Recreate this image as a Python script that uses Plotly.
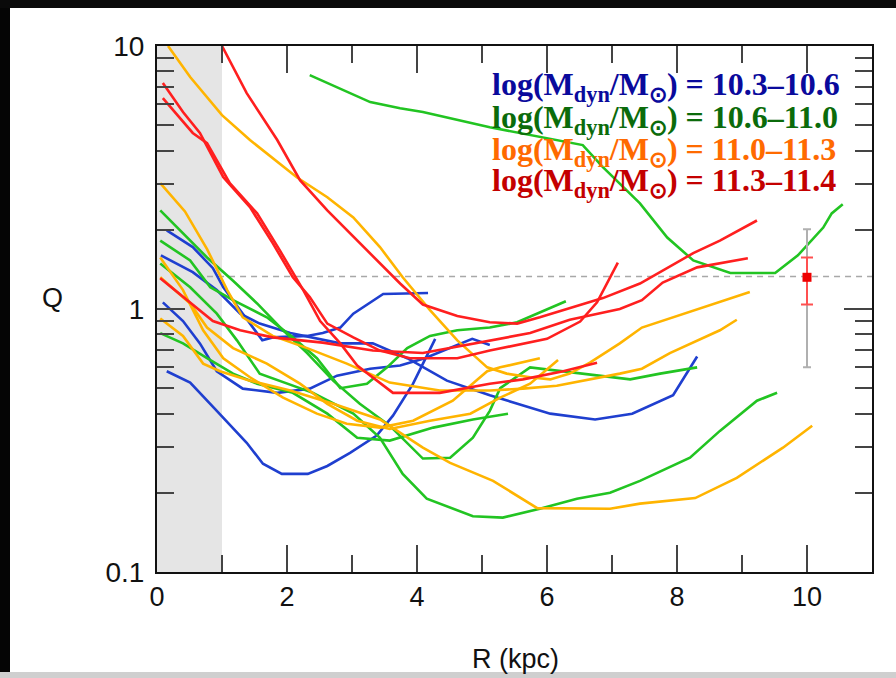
import plotly.graph_objects as go

# ---------------- data (R in kpc, Q) ----------------
# log(Mdyn/Msun) = 11.3-11.4  (red)
red_a_r = [1.00, 1.38, 1.85, 2.20, 2.62, 3.08, 3.43, 3.74, 4.09, 4.62, 5.12, 5.54, 5.89, 6.35, 6.86, 7.43, 7.78, 8.25, 8.66, 9.23]
red_a_q = [10.0, 6.62, 4.39, 3.09, 2.37, 1.82, 1.49, 1.25, 1.04, 0.94, 0.89, 0.88, 0.93, 1.01, 1.10, 1.25, 1.40, 1.63, 1.82, 2.17]
red_b_r = [0.05, 0.40, 0.86, 1.28, 1.78, 2.55, 3.32, 4.09, 4.86, 5.74, 6.35, 7.12, 7.46, 7.78, 8.31, 9.09]
red_b_q = [1.31, 1.11, 0.90, 0.83, 0.78, 0.745, 0.695, 0.68, 0.74, 0.81, 0.91, 1.00, 1.08, 1.26, 1.44, 1.56]
red_c_r = [0.09, 0.40, 0.66, 1.02, 1.43, 1.78, 2.09, 2.35, 2.62, 3.02, 3.43, 3.89, 4.05, 4.62, 5.12, 5.54, 6.00, 6.51, 6.77, 7.09]
red_c_q = [7.23, 5.61, 4.67, 3.17, 2.44, 1.78, 1.32, 1.11, 0.88, 0.78, 0.695, 0.65, 0.65, 0.65, 0.695, 0.73, 0.77, 0.896, 1.06, 1.50]
red_d_r = [0.09, 0.55, 0.77, 1.12, 1.54, 1.89, 2.25, 2.51, 2.82, 3.08, 3.63, 4.35, 5.12, 5.63, 6.25, 6.77]
red_d_q = [6.34, 4.67, 4.27, 3.01, 2.31, 1.67, 1.18, 0.90, 0.74, 0.61, 0.48, 0.48, 0.52, 0.54, 0.58, 0.625]

# log(Mdyn/Msun) = 11.0-11.3  (orange)
org_a_r = [0.17, 0.51, 1.00, 1.43, 2.15, 2.62, 3.02, 3.43, 3.78, 4.20, 4.62, 5.08, 5.38, 5.74, 6.05, 6.35, 6.66, 7.12, 7.46, 7.89, 8.40, 9.12]
org_a_q = [10.0, 7.62, 5.46, 4.39, 3.17, 2.66, 2.23, 1.72, 1.32, 0.99, 0.76, 0.60, 0.568, 0.55, 0.54, 0.568, 0.625, 0.74, 0.85, 0.92, 1.01, 1.16]
org_b_r = [0.05, 0.43, 0.77, 1.08, 1.32, 1.78, 2.31, 2.92, 3.58, 4.35, 5.12, 5.63, 6.15, 6.66, 7.12, 7.46, 7.89, 8.66, 8.92]
org_b_q = [3.01, 2.35, 1.69, 1.18, 0.93, 0.79, 0.71, 0.62, 0.525, 0.49, 0.49, 0.498, 0.511, 0.54, 0.568, 0.593, 0.68, 0.83, 0.91]
org_c_r = [0.05, 0.40, 0.71, 1.02, 1.43, 1.94, 2.46, 2.92, 3.43, 3.94, 4.55, 5.08, 5.28, 5.89]
org_c_q = [1.57, 1.18, 0.83, 0.65, 0.55, 0.46, 0.40, 0.366, 0.354, 0.376, 0.448, 0.58, 0.60, 0.65]
org_d_r = [0.05, 0.51, 0.77, 1.17, 1.69, 2.20, 2.62, 3.08, 3.58, 4.20, 4.82, 5.28, 5.74, 6.17]
org_d_q = [1.32, 1.05, 0.85, 0.71, 0.62, 0.52, 0.436, 0.376, 0.35, 0.376, 0.40, 0.46, 0.52, 0.64]
org_e_r = [0.05, 0.40, 0.71, 0.97, 1.43, 2.05, 2.71, 3.43, 4.09, 4.51, 5.17, 5.85, 6.97, 7.43, 8.28, 8.92, 9.63, 10.08]
org_e_q = [0.92, 0.79, 0.62, 0.58, 0.534, 0.49, 0.436, 0.38, 0.297, 0.26, 0.222, 0.175, 0.174, 0.182, 0.191, 0.228, 0.297, 0.36]

# log(Mdyn/Msun) = 10.6-11.0  (green)
grn_a_r = [2.35, 2.77, 3.28, 3.74, 4.09, 5.12, 5.89, 6.55, 6.86, 7.43, 7.85, 8.25, 8.82, 9.51, 9.86, 10.25, 10.38, 10.55]
grn_a_q = [7.75, 6.98, 6.12, 5.80, 5.61, 4.91, 4.50, 4.20, 3.46, 2.52, 1.87, 1.53, 1.37, 1.37, 1.60, 2.04, 2.31, 2.50]
grn_b_r = [0.05, 0.51, 0.82, 1.17, 1.69, 2.09, 2.46, 2.82, 3.23, 3.54, 3.85, 4.20, 4.62, 5.12, 5.54, 5.89, 6.29]
grn_b_q = [1.82, 1.53, 1.21, 1.08, 0.93, 0.78, 0.65, 0.50, 0.52, 0.60, 0.71, 0.79, 0.83, 0.85, 0.89, 0.97, 1.07]
grn_c_r = [0.05, 0.40, 0.77, 1.17, 1.54, 2.09, 2.62, 3.08, 3.58, 4.25, 4.86, 5.40]
grn_c_q = [0.81, 0.74, 0.65, 0.568, 0.52, 0.48, 0.40, 0.324, 0.316, 0.354, 0.38, 0.40]
grn_d_r = [0.05, 0.40, 0.77, 1.17, 1.54, 1.94, 2.31, 2.71, 3.12, 3.58, 4.09, 4.51, 4.86, 5.12, 5.28, 5.74, 6.40, 7.28, 7.74, 8.31]
grn_d_q = [2.37, 1.94, 1.57, 1.28, 1.05, 0.83, 0.68, 0.534, 0.436, 0.36, 0.27, 0.272, 0.324, 0.41, 0.50, 0.60, 0.573, 0.54, 0.568, 0.60]
grn_e_r = [0.05, 0.51, 0.92, 1.23, 1.58, 1.89, 2.40, 3.02, 3.43, 3.78, 4.15, 4.86, 5.32, 5.89, 6.46, 6.97, 7.43, 8.20, 8.66, 9.23, 9.54]
grn_e_q = [1.49, 1.21, 0.96, 0.76, 0.568, 0.534, 0.48, 0.40, 0.324, 0.236, 0.19, 0.163, 0.161, 0.174, 0.19, 0.20, 0.222, 0.272, 0.344, 0.448, 0.48]

# log(Mdyn/Msun) = 10.3-10.6  (blue)
blu_a_r = [0.15, 0.55, 0.86, 1.02, 1.28, 1.43, 1.62, 1.78, 2.31, 2.55, 2.82, 3.02, 3.28, 3.48, 4.17]
blu_a_q = [1.99, 1.72, 1.43, 1.21, 0.99, 0.88, 0.76, 0.78, 0.79, 0.81, 0.85, 0.96, 1.06, 1.14, 1.15]
blu_b_r = [0.06, 0.55, 0.92, 1.28, 1.58, 2.05, 2.82, 3.32, 3.85, 4.46, 5.12, 6.05, 6.74, 7.31, 7.94, 8.31]
blu_b_q = [1.60, 1.38, 1.18, 0.96, 0.88, 0.81, 0.74, 0.74, 0.65, 0.534, 0.47, 0.40, 0.38, 0.40, 0.47, 0.66]
blu_c_r = [0.15, 0.51, 0.92, 1.38, 1.63, 1.92, 2.32, 2.62, 2.97, 3.38, 3.63, 3.94, 4.28]
blu_c_q = [0.58, 0.525, 0.41, 0.31, 0.258, 0.236, 0.236, 0.253, 0.284, 0.33, 0.393, 0.52, 0.77]
blu_d_r = [0.09, 0.40, 0.66, 0.92, 1.32, 1.85, 2.35, 2.77, 3.28, 3.74, 4.12, 4.48, 4.85, 5.12]
blu_d_q = [1.06, 0.90, 0.74, 0.58, 0.498, 0.48, 0.498, 0.558, 0.593, 0.61, 0.65, 0.707, 0.77, 0.73]

# reference level and typical error bar
q_crit = 1.33
err_r = [10.0]
err_q = [1.32]
err_sys_plus, err_sys_minus = [0.69], [0.72]
err_stat_plus, err_stat_minus = [0.25], [0.28]

legend_lines = [
    ("log(M<sub>dyn</sub>/M<sub>⊙</sub>) = 10.3–10.6", "#0a0a9c"),
    ("log(M<sub>dyn</sub>/M<sub>⊙</sub>) = 10.6–11.0", "#0b6b0b"),
    ("log(M<sub>dyn</sub>/M<sub>⊙</sub>) = 11.0–11.3", "#ff6a00"),
    ("log(M<sub>dyn</sub>/M<sub>⊙</sub>) = 11.3–11.4", "#c40000"),
]

BLUE, GREEN, ORANGE, RED = "#1f3fcf", "#22c422", "#ffb400", "#ff1f1f"

curves = [
    (blu_a_r, blu_a_q, BLUE), (blu_b_r, blu_b_q, BLUE), (blu_c_r, blu_c_q, BLUE), (blu_d_r, blu_d_q, BLUE),
    (grn_a_r, grn_a_q, GREEN), (grn_b_r, grn_b_q, GREEN), (grn_c_r, grn_c_q, GREEN),
    (grn_d_r, grn_d_q, GREEN), (grn_e_r, grn_e_q, GREEN),
    (org_a_r, org_a_q, ORANGE), (org_b_r, org_b_q, ORANGE), (org_c_r, org_c_q, ORANGE),
    (org_d_r, org_d_q, ORANGE), (org_e_r, org_e_q, ORANGE),
    (red_a_r, red_a_q, RED), (red_b_r, red_b_q, RED), (red_c_r, red_c_q, RED), (red_d_r, red_d_q, RED),
]

fig = go.Figure()

# dashed Q reference line
fig.add_trace(go.Scatter(x=[0.77, 11.0], y=[q_crit, q_crit], mode="lines",
                         line=dict(color="#a8a8a8", width=1.6, dash="6px,5px"),
                         hoverinfo="skip", showlegend=False))

for r, q, c in curves:
    fig.add_trace(go.Scatter(x=r, y=q, mode="lines", line=dict(color=c, width=2.6),
                             showlegend=False))

# error bars
fig.add_trace(go.Scatter(x=err_r, y=err_q, mode="markers", marker=dict(size=1, color="rgba(0,0,0,0)"),
                         error_y=dict(type="data", symmetric=False, array=err_sys_plus,
                                      arrayminus=err_sys_minus, color="#b0b0b0", thickness=2, width=4),
                         showlegend=False))
fig.add_trace(go.Scatter(x=err_r, y=err_q, mode="markers",
                         marker=dict(size=9, color="#ee0000", symbol="square"),
                         error_y=dict(type="data", symmetric=False, array=err_stat_plus,
                                      arrayminus=err_stat_minus, color="#ff5050", thickness=2, width=6),
                         showlegend=False))

W, H = 896, 678
L, R, T, B = 157, 24, 46, 106
pw, ph = W - L - R, H - T - B


def px_x(p):
    return (p - L) / pw


def px_y(p):
    return (H - B - p) / ph


shapes = [
    dict(type="rect", xref="x", yref="paper", x0=0, x1=1, y0=0, y1=1,
         fillcolor="#e5e5e5", line=dict(width=0), layer="below"),
    # photo frame
    dict(type="rect", xref="paper", yref="paper", x0=px_x(0), x1=px_x(10), y0=px_y(H), y1=px_y(0),
         fillcolor="#050505", line=dict(width=0), layer="above"),
    dict(type="rect", xref="paper", yref="paper", x0=px_x(0), x1=px_x(W), y0=px_y(8), y1=px_y(0),
         fillcolor="#0a0a0a", line=dict(width=0), layer="above"),
    dict(type="rect", xref="paper", yref="paper", x0=px_x(0), x1=px_x(W), y0=px_y(H), y1=px_y(672),
         fillcolor="#cfcfcf", line=dict(width=0), layer="above"),
]

annotations = []
leg_y = [86, 119, 151, 183]
for (txt, col), yy in zip(legend_lines, leg_y):
    annotations.append(dict(text=txt, xref="paper", yref="paper", x=px_x(490), y=px_y(yy),
                            xanchor="left", yanchor="middle", showarrow=False,
                            font=dict(family="Liberation Serif, Times New Roman, serif", size=32,
                                      color=col, weight="bold")))
annotations.append(dict(text="Q", xref="paper", yref="paper", x=px_x(52), y=px_y(298),
                        xanchor="center", yanchor="middle", showarrow=False,
                        font=dict(family="Liberation Sans, Arial", size=27, color="#111")))
annotations.append(dict(text="R (kpc)", xref="paper", yref="paper", x=px_x(515), y=px_y(659),
                        xanchor="center", yanchor="middle", showarrow=False,
                        font=dict(family="Liberation Sans, Arial", size=27, color="#111")))

x_major = [0, 2, 4, 6, 8, 10]
x_minor = [1, 3, 5, 7, 9]
y_major = [0.1, 1, 10]
y_major_txt = ["0.1", "1", "10"]
y_minor = [0.2, 0.3, 0.4, 0.5, 0.6, 0.7, 0.8, 0.9, 2, 3, 4, 5, 6, 7, 8, 9]

fig.update_layout(
    width=W, height=H, margin=dict(l=L, r=R, t=T, b=B, pad=0),
    paper_bgcolor="white", plot_bgcolor="white",
    shapes=shapes, annotations=annotations, showlegend=False,
    xaxis=dict(range=[0, 11], tickvals=x_major, ticks="inside", ticklen=27, tickwidth=1.5,
               tickcolor="#444", showline=True, linecolor="#111", linewidth=2, mirror="ticks",
               showgrid=False, zeroline=False,
               tickfont=dict(family="Liberation Sans, Arial", size=27, color="#111"),
               minor=dict(tickvals=x_minor, ticks="inside", ticklen=17, tickwidth=1.5, tickcolor="#444",
                          showgrid=False)),
    yaxis=dict(type="log", range=[-1, 1], tickvals=y_major, ticktext=y_major_txt, ticks="inside",
               ticklen=28, tickwidth=1.5, tickcolor="#444", showline=True, linecolor="#111",
               linewidth=2, mirror="ticks", showgrid=False, zeroline=False, ticklabelstandoff=5,
               tickfont=dict(family="Liberation Sans, Arial", size=28, color="#111"),
               minor=dict(tickvals=y_minor, ticks="inside", ticklen=17, tickwidth=1.5, tickcolor="#444",
                          showgrid=False)),
)

fig.write_html("out.html", config={"displayModeBar": False})
